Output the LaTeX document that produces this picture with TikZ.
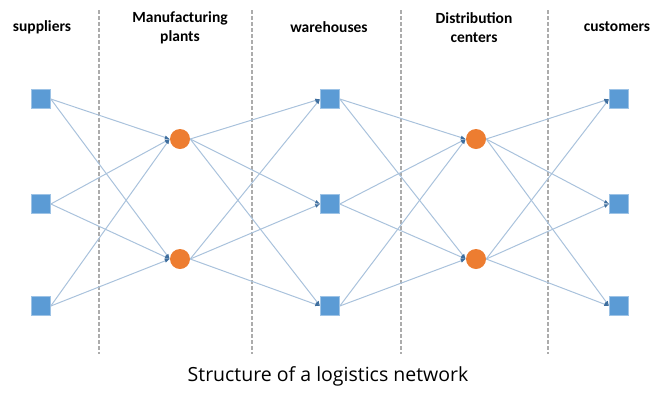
\documentclass[tikz,border=0pt]{standalone}
\usepackage{fontspec}
\newfontfamily\headfont{Carlito}
\newfontfamily\capfont{Open Sans}
\usepackage{tikz}
\usetikzlibrary{arrows.meta}
\definecolor{boxblue}{HTML}{5B9BD5}
\definecolor{boxedge}{HTML}{9DC3E6}
\definecolor{dotorange}{HTML}{ED7D31}
\definecolor{linkblue}{HTML}{A9C2DC}
\definecolor{tipblue}{HTML}{3E6E9E}
\tikzset{
	site/.style={rectangle,fill=boxblue,draw=boxedge,line width=0.6pt,minimum size=19pt,inner sep=0pt},
	hub/.style={circle,fill=dotorange,draw=none,minimum size=20pt,inner sep=0pt},
	link/.style={linkblue,line width=1pt,-{Latex[length=5pt,width=4pt,color=tipblue]}},
	sep/.style={gray!65,line width=1.3pt,dash pattern=on 3.5pt off 2.5pt},
	head/.style={font=\headfont\bfseries\fontsize{15.5}{19}\selectfont,align=center}
}
\begin{document}
\begin{tikzpicture}[x=1pt,y=-1pt]
	\useasboundingbox (0,0) rectangle (656,392);
	% column separators
	\foreach \xs in {99,252,401,548}
		\draw[sep] (\xs,10) -- (\xs,354);
	% headings
	\node[head] (hs) at (42,27) {suppliers};
	\node[head] (hm) at (180,27.5) {Manufacturing\\plants};
	\node[head] (hw) at (329,27) {warehouses};
	\node[head] (hd) at (474,27.5) {Distribution\\centers};
	\node[head] (hc) at (617,27) {customers};
	% nodes
	\foreach \i/\y in {1/99,2/204,3/306} {
		\node[site] (s\i) at (41,\y) {};
		\node[site] (w\i) at (330,\y) {};
		\node[site] (c\i) at (619,\y) {};
	}
	\foreach \i/\y in {1/139,2/259} {
		\node[hub] (m\i) at (180,\y) {};
		\node[hub] (d\i) at (476,\y) {};
	}
	% links
	\foreach \a in {1,2,3}
		\foreach \b in {1,2} {
			\draw[link] (s\a.east) -- (m\b.west);
			\draw[link] (m\b.east) -- (w\a.west);
			\draw[link] (w\a.east) -- (d\b.west);
			\draw[link] (d\b.east) -- (c\a.west);
		}
	\node[font=\capfont\fontsize{19.5}{22}\selectfont] (cap) at (328,376) {Structure of a logistics network};
\end{tikzpicture}
\end{document}
